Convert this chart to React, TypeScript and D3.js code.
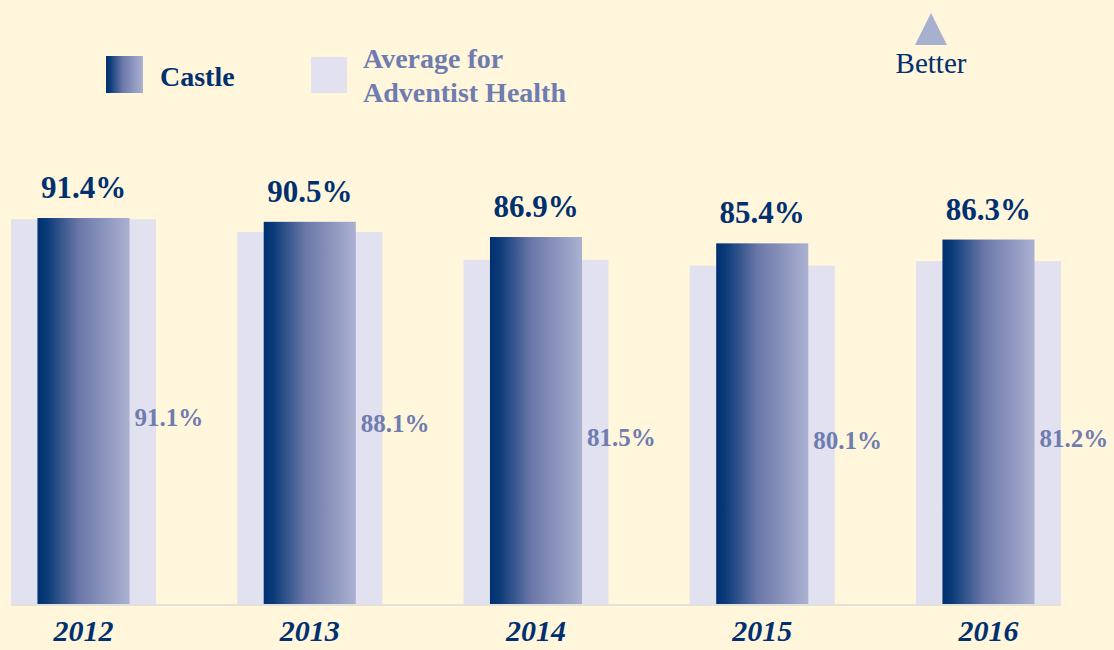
import * as d3 from "d3";

const years = ["2012", "2013", "2014", "2015", "2016"];
const castle = [91.4, 90.5, 86.9, 85.4, 86.3];
const average = [91.1, 88.1, 81.5, 80.1, 81.2];

const W = 1114;
const H = 650;
const DARK = "#00306f";
const MID = "#6f7cb0";
const LIGHT = "#e1e1ef";
const BG = "#fff6dc";
const FONT = "'Liberation Serif', 'DejaVu Serif', serif";

export default function App() {
  const x = d3
    .scaleBand<string>()
    .domain(years)
    .range([11, 1061])
    .paddingInner(0.359)
    .paddingOuter(0);
  const y = d3.scaleLinear().domain([0, 100]).range([604, 181.7]);
  const bw = x.bandwidth();
  const dw = bw * 0.635;
  const off = (bw - dw) / 2;

  return (
    <svg
      width={W}
      height={H}
      style={{ position: "absolute", left: 0, top: 0, background: BG }}
      fontFamily={FONT}
    >
      <defs>
        <linearGradient id="castleGrad" x1="0" x2="1" y1="0" y2="0">
          <stop offset="0" stopColor="#00306f" />
          <stop offset="0.1" stopColor="#0a3a78" />
          <stop offset="0.45" stopColor="#6a77a8" />
          <stop offset="1" stopColor="#abb1d1" />
        </linearGradient>
      </defs>
      <rect width={W} height={H} fill={BG} />

      {/* legend */}
      <rect x={106} y={56} width={37} height={37} fill="url(#castleGrad)" />
      <text x={160} y={86} fontSize={28} fontWeight="bold" fill={DARK}>
        Castle
      </text>
      <rect x={311} y={57} width={36} height={36} fill={LIGHT} />
      <text x={363} y={68} fontSize={28} fontWeight="bold" fill={MID}>
        Average for
      </text>
      <text x={363} y={102} fontSize={28} fontWeight="bold" fill={MID}>
        Adventist Health
      </text>

      {/* better marker */}
      <path d="M931,13 L947,45 L915,45 Z" fill="#a8b0d0" />
      <text x={931} y={73} fontSize={29} textAnchor="middle" fill={DARK}>
        Better
      </text>

      {/* baseline */}
      <line x1={11} x2={1061} y1={605} y2={605} stroke="#e4e0da" strokeWidth={2} />

      {years.map((yr, i) => {
        const x0 = x(yr) as number;
        const aTop = y(average[i]);
        const cTop = y(castle[i]);
        return (
          <g key={yr}>
            <rect x={x0} y={aTop} width={bw} height={y(0) - aTop} fill={LIGHT} />
            <rect
              x={x0 + off}
              y={cTop}
              width={dw}
              height={y(0) - cTop}
              fill="url(#castleGrad)"
            />
            <text
              x={x0 + bw / 2}
              y={cTop - 20}
              fontSize={31}
              fontWeight="bold"
              textAnchor="middle"
              fill={DARK}
            >
              {castle[i].toFixed(1)}%
            </text>
            <text
              x={x0 + off + dw + 5}
              y={(aTop + y(0)) / 2 + 14}
              fontSize={25}
              fontWeight="bold"
              fill={MID}
            >
              {average[i].toFixed(1)}%
            </text>
            <text
              x={x0 + bw / 2}
              y={641}
              fontSize={30}
              fontWeight="bold"
              fontStyle="italic"
              textAnchor="middle"
              fill={DARK}
            >
              {yr}
            </text>
          </g>
        );
      })}
    </svg>
  );
}
